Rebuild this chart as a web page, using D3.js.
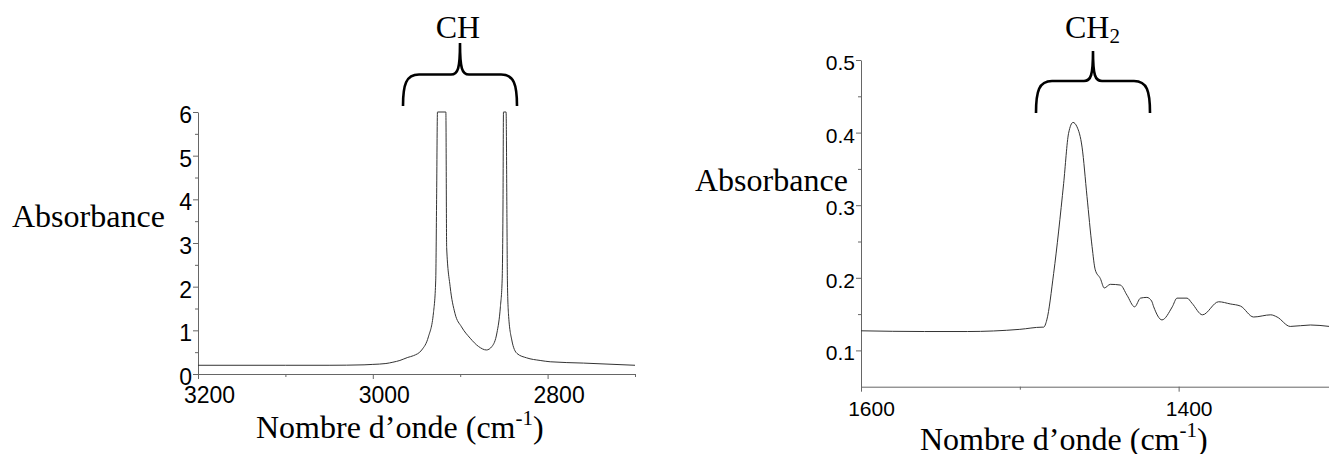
<!DOCTYPE html>
<html>
<head>
<meta charset="utf-8">
<script src="https://cdn.jsdelivr.net/npm/d3@7"></script>
<style>
  body { margin: 0; background: #fff; }
  svg { display: block; }
</style>
</head>
<body>
<svg id="chart" width="1329" height="454"></svg>
<script>
// CH stretch region (left spectrum): wavenumber / absorbance
const chWavenumber = [3200, 3100, 3050, 3010, 3000, 2985, 2977, 2969, 2960, 2953.5, 2944, 2936.4, 2930.6,
  2928, 2927, 2926, 2916.4, 2915.5, 2911.5, 2906, 2898.5, 2888.6, 2879, 2870, 2863.7, 2858, 2854,
  2852, 2851, 2850.5, 2847.5, 2846.5, 2846, 2844.8, 2841, 2835, 2824, 2808.5, 2797, 2759, 2700];
const chAbsorbance = [0.20, 0.20, 0.20, 0.21, 0.22, 0.24, 0.27, 0.31, 0.38, 0.42, 0.55, 0.85, 1.4,
  2.15, 4.0, 6, 6, 2.9, 2.0, 1.39, 1.08, 0.82, 0.63, 0.55, 0.63, 0.94, 1.54,
  2.15, 4.0, 6, 6, 3.5, 2.15, 1.39, 0.78, 0.47, 0.37, 0.31, 0.28, 0.25, 0.20];

// CH2 bending region (right spectrum)
const ch2Wavenumber = [1600, 1560, 1533, 1500, 1486, 1485, 1483, 1478.7, 1472.4, 1469.3, 1466.5, 1464,
  1460.8, 1457.7, 1454.5, 1452.5, 1449.3, 1446.8, 1443, 1436.7, 1432.5, 1427.7, 1424, 1420, 1417,
  1415.7, 1410.5, 1404, 1401, 1394.7, 1391.6, 1385, 1374.8, 1367.5, 1361, 1352.8, 1342, 1338,
  1329.7, 1317, 1305];
const ch2Absorbance = [0.127, 0.126, 0.126, 0.129, 0.132, 0.132, 0.142, 0.206, 0.33, 0.399, 0.414, 0.408,
  0.38, 0.312, 0.243, 0.211, 0.199, 0.186, 0.191, 0.19, 0.176, 0.16, 0.172, 0.173, 0.168,
  0.16, 0.142, 0.16, 0.172, 0.172, 0.165, 0.149, 0.167, 0.164, 0.161, 0.146, 0.149, 0.146,
  0.133, 0.135, 0.133];

// ticks
const leftXMajor = [3200, 3000, 2800];
const leftXMinor = [3100, 2900, 2700];
const leftYMajor = [0, 1, 2, 3, 4, 5, 6];
const leftYMinor = [0.5, 1.5, 2.5, 3.5, 4.5, 5.5];
const rightXMajor = [1600, 1400];
const rightXMinor = [1500];
const rightYMajor = [0.1, 0.2, 0.3, 0.4, 0.5];
const rightYMinor = [0.15, 0.25, 0.35, 0.45];

const svg = d3.select("#chart");
svg.append("rect").attr("width", 1329).attr("height", 454).attr("fill", "#fff");

const axisColor = "#666";
const lineColor = "#333";
const serif = "'Liberation Serif', 'Times New Roman', serif";
const sans = "'Liberation Sans', Arial, sans-serif";

function drawPanel(opt) {
  const x = d3.scaleLinear().domain(opt.xDomain).range(opt.xRange);
  const y = d3.scaleLinear().domain(opt.yDomain).range(opt.yRange);
  const g = svg.append("g");
  const y0 = opt.yRange[0], x0 = opt.xRange[0];

  // minor ticks first
  g.append("g").attr("transform", `translate(0,${y0})`)
    .call(d3.axisBottom(x).tickValues(opt.xMinor).tickSize(3).tickFormat(""))
    .call(a => a.select(".domain").remove());
  g.append("g").attr("transform", `translate(${x0},0)`)
    .call(d3.axisLeft(y).tickValues(opt.yMinor).tickSize(3).tickFormat(""))
    .call(a => a.select(".domain").remove());

  const xa = g.append("g").attr("transform", `translate(0,${y0})`)
    .call(d3.axisBottom(x).tickValues(opt.xMajor).tickSize(5).tickSizeOuter(0)
      .tickPadding(opt.xPad).tickFormat(d3.format("d")));
  xa.selectAll("text").attr("x", opt.labelShift);

  const ya = g.append("g").attr("transform", `translate(${x0},0)`)
    .call(d3.axisLeft(y).tickValues(opt.yMajor).tickSize(5).tickSizeOuter(0)
      .tickPadding(1).tickFormat(opt.yFormat));
  ya.selectAll("text").attr("dy", "0.45em");

  g.selectAll(".domain, .tick line").attr("stroke", axisColor).attr("stroke-width", 1);
  g.selectAll(".tick text").attr("fill", "#000")
    .style("font-family", sans).style("font-size", opt.fontSize + "px");

  const pts = opt.xs.map((v, i) => [v, opt.ys[i]]);
  g.append("path")
    .datum(pts)
    .attr("fill", "none")
    .attr("stroke", lineColor)
    .attr("stroke-width", 1)
    .attr("d", d3.line().x(d => x(d[0])).y(d => y(d[1])).curve(opt.curve)(pts));
}

drawPanel({
  xDomain: [3200, 2700], xRange: [198, 635],
  yDomain: [0, 6], yRange: [374, 112],
  xMajor: leftXMajor, xMinor: leftXMinor, yMajor: leftYMajor, yMinor: leftYMinor,
  xPad: 8, labelShift: 11, fontSize: 23, yFormat: d3.format("d"),
  xs: chWavenumber, ys: chAbsorbance, curve: d3.curveMonotoneX
});

drawPanel({
  xDomain: [1600, 1305], xRange: [861, 1329.5],
  yDomain: [0.05, 0.5], yRange: [386.7, 60],
  xMajor: rightXMajor, xMinor: rightXMinor, yMajor: rightYMajor, yMinor: rightYMinor,
  xPad: 9, labelShift: 10, fontSize: 21, yFormat: d3.format(".1f"),
  xs: ch2Wavenumber, ys: ch2Absorbance, curve: d3.curveMonotoneX
});

// axis titles
function xTitle(x, y) {
  const t = svg.append("text").attr("x", x).attr("y", y)
    .style("font-family", serif).style("font-size", "32px").attr("fill", "#000");
  t.append("tspan").text("Nombre d\u2019onde (cm");
  t.append("tspan").attr("dy", -13).style("font-size", "21px").text("-1");
  t.append("tspan").attr("dy", 13).text(")");
}
xTitle(256, 438);
xTitle(920, 450);

svg.append("text").attr("x", 12).attr("y", 227)
  .style("font-family", serif).style("font-size", "32px").text("Absorbance");
svg.append("text").attr("x", 695).attr("y", 191)
  .style("font-family", serif).style("font-size", "32px").text("Absorbance");

// braces with group labels
function brace(cx, yTop, yH, yBot, w) {
  const p = d3.path();
  p.moveTo(cx - w, yBot);
  p.bezierCurveTo(cx - w, yH + 10, cx - w + 3, yH, cx - w + 16, yH);
  p.lineTo(cx - 9, yH);
  p.bezierCurveTo(cx - 2, yH, cx, yH - 6, cx, yTop);
  p.bezierCurveTo(cx, yH - 6, cx + 2, yH, cx + 9, yH);
  p.lineTo(cx + w - 16, yH);
  p.bezierCurveTo(cx + w - 3, yH, cx + w, yH + 10, cx + w, yBot);
  svg.append("path").attr("d", p.toString())
    .attr("fill", "none").attr("stroke", "#000").attr("stroke-width", 2.6);
}
brace(460, 43, 74.5, 106, 57);
brace(1093, 51, 81, 113, 57);

svg.append("text").attr("x", 458).attr("y", 38).attr("text-anchor", "middle")
  .style("font-family", serif).style("font-size", "32px").text("CH");
const ch2 = svg.append("text").attr("x", 1065).attr("y", 38)
  .style("font-family", serif).style("font-size", "32px");
ch2.append("tspan").text("CH");
ch2.append("tspan").attr("dy", 5).style("font-size", "21px").text("2");
</script>
</body>
</html>
